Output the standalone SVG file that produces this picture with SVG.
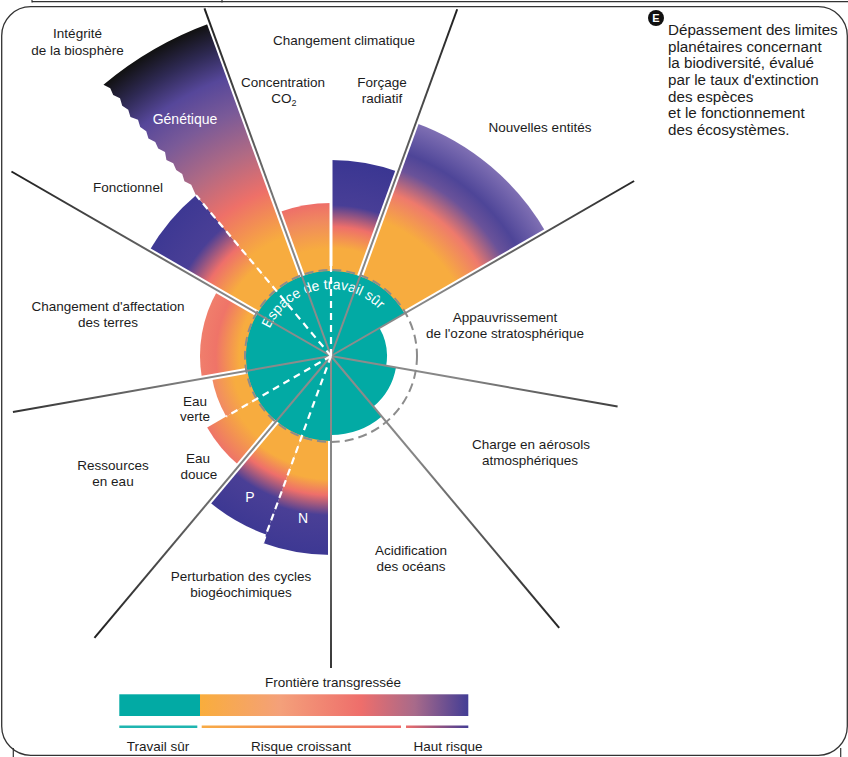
<svg xmlns="http://www.w3.org/2000/svg" width="848" height="757" viewBox="0 0 848 757">
<style>
.lbl{font-family:"Liberation Sans",Arial,sans-serif;font-size:13.5px;fill:#1c1c1c;text-anchor:middle}
.wl{font-family:"Liberation Sans",Arial,sans-serif;font-size:14px;fill:#ffffff;text-anchor:middle}
.note{font-family:"Liberation Sans",Arial,sans-serif;font-size:15.2px;fill:#1c1c1c}
.under{stroke:#ffffff;stroke-width:6;fill:none}
.spoke{stroke:url(#spokeGrad);stroke-width:2;fill:none}
.wd{stroke:#ffffff;stroke-width:2.2;stroke-dasharray:7 5;fill:none}
.frame{fill:none;stroke:#333333;stroke-width:1.3}
</style>
<defs>
<radialGradient id="spokeGrad" gradientUnits="userSpaceOnUse" cx="0" cy="0" r="370">
<stop offset="0" stop-color="#8e8e8e"/><stop offset="0.35" stop-color="#858585"/><stop offset="1" stop-color="#1e1e1e"/>
</radialGradient>
<radialGradient id="gCO2" gradientUnits="userSpaceOnUse" cx="0" cy="0" r="153">
<stop offset="0" stop-color="#f7ac3f"/><stop offset="0.7" stop-color="#f7ac3f"/><stop offset="0.88" stop-color="#f08a5e"/><stop offset="1" stop-color="#ee6e69"/>
</radialGradient>
<radialGradient id="gRad" gradientUnits="userSpaceOnUse" cx="0" cy="0" r="196">
<stop offset="0" stop-color="#f7ac3f"/><stop offset="0.55" stop-color="#f7ac3f"/><stop offset="0.66" stop-color="#ee6f6a"/><stop offset="0.77" stop-color="#483e96"/><stop offset="1" stop-color="#3a3692"/>
</radialGradient>
<radialGradient id="gNE" gradientUnits="userSpaceOnUse" cx="0" cy="0" r="248">
<stop offset="0" stop-color="#f7ac3f"/><stop offset="0.58" stop-color="#f7ac3f"/><stop offset="0.7" stop-color="#ee7a6c"/><stop offset="0.8" stop-color="#6a5299"/><stop offset="0.87" stop-color="#4e4598"/><stop offset="1" stop-color="#7f6fb3"/>
</radialGradient>
<radialGradient id="gLand" gradientUnits="userSpaceOnUse" cx="0" cy="0" r="131">
<stop offset="0" stop-color="#f7ac3f"/><stop offset="0.7" stop-color="#f7ac3f"/><stop offset="0.88" stop-color="#ef7468"/><stop offset="1" stop-color="#f07e6c"/>
</radialGradient>
<radialGradient id="gGreen" gradientUnits="userSpaceOnUse" cx="0" cy="0" r="121">
<stop offset="0" stop-color="#f7ac3f"/><stop offset="0.82" stop-color="#f7ac3f"/><stop offset="1" stop-color="#f18a64"/>
</radialGradient>
<radialGradient id="gBlue" gradientUnits="userSpaceOnUse" cx="0" cy="0" r="143">
<stop offset="0" stop-color="#f7ac3f"/><stop offset="0.76" stop-color="#f7ac3f"/><stop offset="1" stop-color="#ee7468"/>
</radialGradient>
<radialGradient id="gP" gradientUnits="userSpaceOnUse" cx="0" cy="0" r="190">
<stop offset="0" stop-color="#f7ac3f"/><stop offset="0.6" stop-color="#f7ac3f"/><stop offset="0.69" stop-color="#ee6f6a"/><stop offset="0.8" stop-color="#4a3f96"/><stop offset="1" stop-color="#3d3893"/>
</radialGradient>
<radialGradient id="gN" gradientUnits="userSpaceOnUse" cx="0" cy="0" r="199">
<stop offset="0" stop-color="#f7ac3f"/><stop offset="0.62" stop-color="#f7ac3f"/><stop offset="0.7" stop-color="#ee6f6a"/><stop offset="0.8" stop-color="#4a3f96"/><stop offset="1" stop-color="#3d3893"/>
</radialGradient>
<radialGradient id="gFn" gradientUnits="userSpaceOnUse" cx="0" cy="0" r="210">
<stop offset="0" stop-color="#f7ac3f"/><stop offset="0.55" stop-color="#f7ac3f"/><stop offset="0.68" stop-color="#ee6f6a"/><stop offset="0.8" stop-color="#4a3f96"/><stop offset="1" stop-color="#3d3893"/>
</radialGradient>
<radialGradient id="gGen" gradientUnits="userSpaceOnUse" cx="0" cy="0" r="354">
<stop offset="0" stop-color="#f7ac3f"/><stop offset="0.36" stop-color="#f7ac3f"/><stop offset="0.5" stop-color="#ee7068"/><stop offset="0.62" stop-color="#b06a84"/><stop offset="0.74" stop-color="#7a5a98"/><stop offset="0.84" stop-color="#56479a"/><stop offset="0.92" stop-color="#2f2a55"/><stop offset="1" stop-color="#111111"/>
</radialGradient>
<linearGradient id="gLegend" x1="0" y1="0" x2="1" y2="0">
<stop offset="0" stop-color="#f9ad3c"/><stop offset="0.3" stop-color="#f4a07a"/><stop offset="0.6" stop-color="#ee6e6b"/><stop offset="0.8" stop-color="#a86a8a"/><stop offset="1" stop-color="#433d95"/>
</linearGradient>
<linearGradient id="gLine1" x1="0" y1="0" x2="1" y2="0">
<stop offset="0" stop-color="#f8ab45"/><stop offset="1" stop-color="#ee6e6b"/>
</linearGradient>
<linearGradient id="gLine2" x1="0" y1="0" x2="1" y2="0">
<stop offset="0" stop-color="#ee6e6b"/><stop offset="1" stop-color="#433d95"/>
</linearGradient>
</defs>

<rect width="848" height="757" fill="#ffffff"/>
<g id="page-edges">
<line x1="32" y1="1.7" x2="848" y2="1.7" stroke="#333" stroke-width="1.2"/>
<line x1="32" y1="0" x2="32" y2="2.5" stroke="#333" stroke-width="1.2"/>
<line x1="222" y1="0" x2="222" y2="2.5" stroke="#333" stroke-width="1.2"/>
<rect class="frame" x="1.7" y="6.7" width="845.6" height="748.6" rx="29"/>
<line x1="13.3" y1="748" x2="13.3" y2="757" stroke="#333" stroke-width="1.2"/>
<line x1="840.7" y1="748" x2="840.7" y2="757" stroke="#333" stroke-width="1.2"/>
</g>

<g id="chart" transform="translate(331,356)">
<g id="wedge-co2"><path d="M0,0 L-52.33,-143.77 A153,153 0 0 1 0,-153 Z" fill="url(#gCO2)"/></g>
<g id="wedge-forcage"><path d="M0,0 L0,-196 A196,196 0 0 1 67.03,-184.18 Z" fill="url(#gRad)"/></g>
<g id="wedge-nouvelles"><path d="M0,0 L84.82,-233.05 A248,248 0 0 1 214.77,-124 Z" fill="url(#gNE)"/></g>
<g id="wedge-n"><path d="M0,0 L0,199 A199,199 0 0 1 -68.06,187 Z" fill="url(#gN)"/></g>
<g id="wedge-p"><path d="M0,0 L-64.98,178.54 A190,190 0 0 1 -122.13,145.54 Z" fill="url(#gP)"/></g>
<g id="wedge-eau-douce"><path d="M0,0 L-91.92,109.54 A143,143 0 0 1 -123.84,71.5 Z" fill="url(#gBlue)"/></g>
<g id="wedge-eau-verte"><path d="M0,0 L-104.79,60.5 A121,121 0 0 1 -119.16,21.01 Z" fill="url(#gGreen)"/></g>
<g id="wedge-terres"><path d="M0,0 L-129.01,22.74 A131,131 0 0 1 -113.45,-65.5 Z" fill="url(#gLand)"/></g>
<g id="wedge-fonctionnel"><path d="M0,0 L-181.87,-105 A210,210 0 0 1 -134.99,-160.87 Z" fill="url(#gFn)"/></g>
<g id="wedge-genetique"><path d="M0,0 L-134.99,-160.86 L-136.79,-164.56 L-139.76,-171.22 L-146.56,-174.65 L-148.76,-181.94 L-154.79,-186.01 L-157.76,-192.66 L-164.56,-196.10 L-166.00,-204.03 L-172.79,-207.46 L-175.76,-214.11 L-182.56,-217.54 L-184.75,-224.84 L-190.78,-228.91 L-192.99,-236.20 L-200.55,-238.99 L-202.75,-246.28 L-208.78,-250.36 L-210.99,-257.65 L-217.78,-261.08 L-220.75,-267.73 L-227.55,-271.16 A354,354 0 0 1 -121.07,-332.65 Z" fill="url(#gGen)"/></g>

<g id="gaps">
<line class="under" x1="0" y1="0" x2="-126.54" y2="-347.69"/>
<line class="under" x1="0" y1="0" x2="126.2" y2="-346.75"/>
<line class="under" x1="0" y1="0" x2="303.1" y2="-175"/>
<line class="under" x1="0" y1="0" x2="0" y2="312"/>
<line class="under" x1="0" y1="0" x2="-236.55" y2="281.89"/>
<line class="under" x1="0" y1="0" x2="-318.09" y2="56.07"/>
<line class="under" x1="0" y1="0" x2="-319.55" y2="-184.5"/>
<line x1="0" y1="-90" x2="0" y2="-200" stroke="#fff" stroke-width="3"/>
</g>

<g id="safe-space">
<path d="M0,0 L0,85 A85,85 0 1 1 73.61,-42.5 Z M0,0 L48.5,-28 A56,56 0 0 1 55.15,9.72 Z M0,0 L65,11.46 A66,66 0 0 1 42.42,50.56 Z M0,0 L50.78,60.51 A79,79 0 0 1 0,79 Z" fill="#02aaa4"/>
<circle cx="0" cy="0" r="86" fill="none" stroke="#8c8c8c" stroke-width="2" stroke-dasharray="9 5"/>
<path id="arcText" d="M-66.02,11.64 A67,67 0 0 1 66.02,-11.64" fill="none"/>
<text class="wl"><textPath href="#arcText" startOffset="50%">Espace de travail sûr</textPath></text>
</g>

<g id="connectors">
<line class="spoke" x1="0" y1="0" x2="-126.54" y2="-347.69"/>
<line class="spoke" x1="0" y1="0" x2="126.2" y2="-346.75"/>
<line class="spoke" x1="0" y1="0" x2="303.1" y2="-175"/>
<line class="spoke" x1="0" y1="0" x2="286.58" y2="50.52"/>
<line class="spoke" x1="0" y1="0" x2="228.19" y2="271.93"/>
<line class="spoke" x1="0" y1="0" x2="0" y2="312"/>
<line class="spoke" x1="0" y1="0" x2="-236.55" y2="281.89"/>
<line class="spoke" x1="0" y1="0" x2="-318.09" y2="56.07"/>
<line class="spoke" x1="0" y1="0" x2="-319.55" y2="-184.5"/>
<line class="wd" x1="0" y1="0" x2="-134.99" y2="-160.86"/>
<line class="wd" x1="0" y1="0" x2="0" y2="-90"/>
<line class="wd" x1="0" y1="0" x2="-104.79" y2="60.5"/>
<line class="wd" x1="0" y1="0" x2="-68.06" y2="187"/>
</g>
</g>

<g id="labels">
<text class="lbl" x="77.5" y="38">Intégrité</text>
<text class="lbl" x="77.5" y="55">de la biosphère</text>
<text class="lbl" x="344" y="45">Changement climatique</text>
<text class="lbl" x="283" y="87">Concentration</text>
<text class="lbl" x="284" y="103">CO<tspan font-size="9" dy="3">2</tspan></text>
<text class="lbl" x="382" y="87">Forçage</text>
<text class="lbl" x="382" y="103">radiatif</text>
<text class="lbl" x="540" y="132">Nouvelles entités</text>
<text class="wl" x="185" y="124">Génétique</text>
<text class="lbl" x="128" y="192">Fonctionnel</text>
<text class="lbl" x="108" y="311">Changement d'affectation</text>
<text class="lbl" x="108" y="327">des terres</text>
<text class="lbl" x="505" y="322">Appauvrissement</text>
<text class="lbl" x="505" y="338">de l'ozone stratosphérique</text>
<text class="lbl" x="195" y="406">Eau</text>
<text class="lbl" x="195" y="421">verte</text>
<text class="lbl" x="198" y="463">Eau</text>
<text class="lbl" x="199" y="479">douce</text>
<text class="lbl" x="113" y="470">Ressources</text>
<text class="lbl" x="113" y="486">en eau</text>
<text class="wl" x="250" y="502">P</text>
<text class="wl" x="303" y="523">N</text>
<text class="lbl" x="531" y="449">Charge en aérosols</text>
<text class="lbl" x="530" y="465">atmosphériques</text>
<text class="lbl" x="411" y="555">Acidification</text>
<text class="lbl" x="411" y="571">des océans</text>
<text class="lbl" x="241" y="581">Perturbation des cycles</text>
<text class="lbl" x="241" y="597">biogéochimiques</text>
</g>

<g id="note">
<circle cx="656" cy="18" r="8" fill="#111"/>
<text x="656" y="22" font-family="Liberation Sans, Arial, sans-serif" font-size="11" font-weight="bold" fill="#fff" text-anchor="middle">E</text>
<text class="note" x="668" y="35">Dépassement des limites</text>
<text class="note" x="668" y="51.7">planétaires concernant</text>
<text class="note" x="668" y="68.3">la biodiversité, évalué</text>
<text class="note" x="668" y="85">par le taux d'extinction</text>
<text class="note" x="668" y="101.7">des espèces</text>
<text class="note" x="668" y="118.3">et le fonctionnement</text>
<text class="note" x="668" y="135">des écosystèmes.</text>
</g>

<g id="legend">
<text class="lbl" x="333" y="687">Frontière transgressée</text>
<rect x="119.3" y="694.3" width="80.7" height="21.7" fill="#02aaa4"/>
<rect x="200" y="694.3" width="268.3" height="21.7" fill="url(#gLegend)"/>
<rect x="119.3" y="725.5" width="78" height="2.5" fill="#1fb5b0"/>
<rect x="201.7" y="725.5" width="199.3" height="2.5" fill="url(#gLine1)"/>
<rect x="406" y="725.5" width="62.3" height="2.5" fill="url(#gLine2)"/>
<text class="lbl" x="158" y="751">Travail sûr</text>
<text class="lbl" x="301" y="751">Risque croissant</text>
<text class="lbl" x="448" y="751">Haut risque</text>
</g>
</svg>
